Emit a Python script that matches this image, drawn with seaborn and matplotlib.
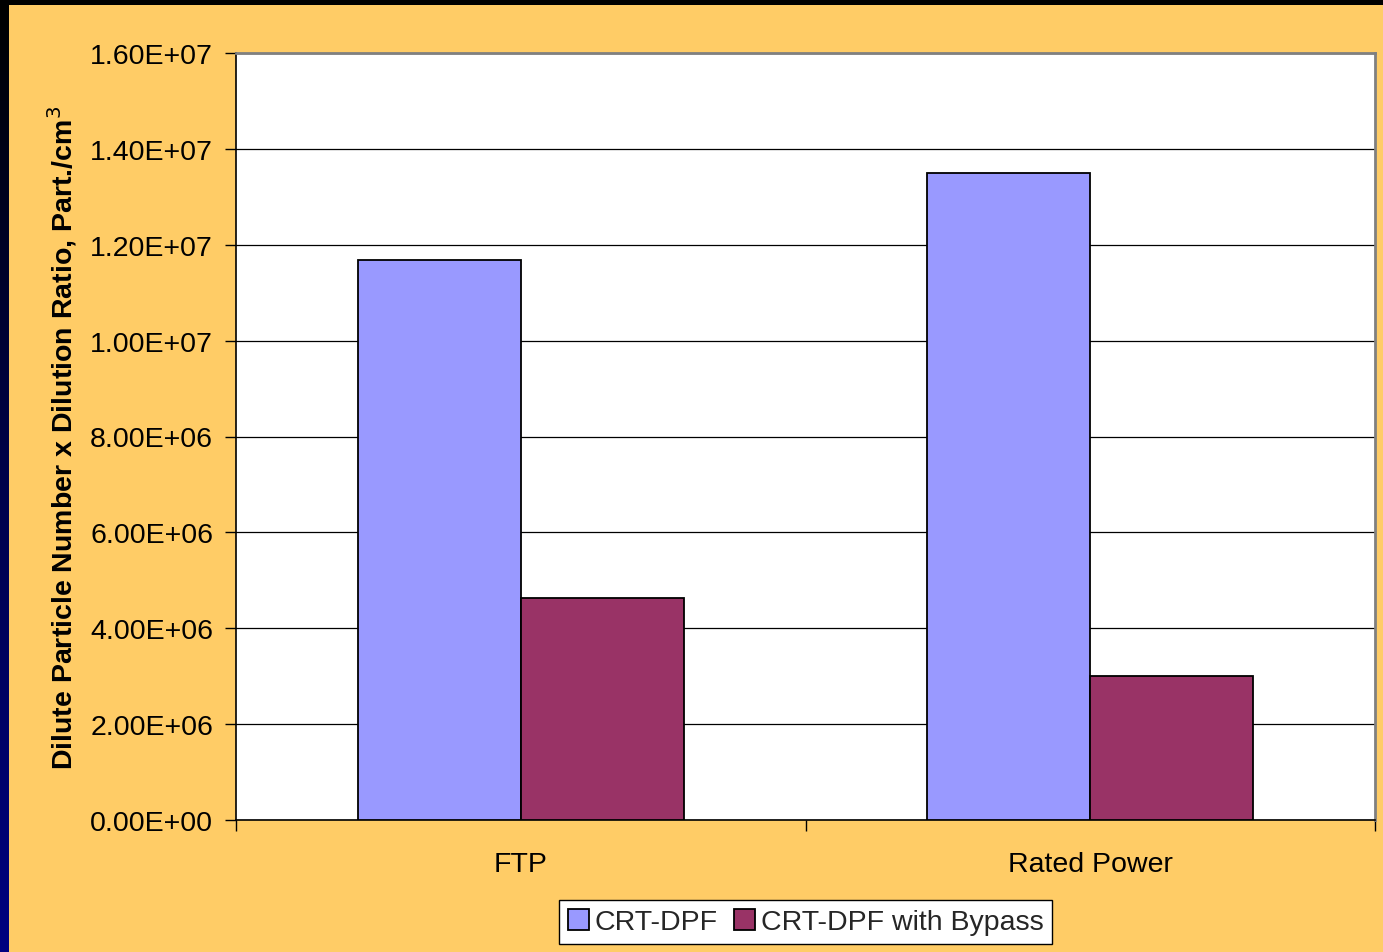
import numpy as np
import pandas as pd
import matplotlib
matplotlib.use("Agg")
import matplotlib.pyplot as plt
import seaborn as sns
from matplotlib.ticker import FixedLocator
from matplotlib.colors import LinearSegmentedColormap

categories = ["FTP", "Rated Power"]
series_names = ["CRT-DPF", "CRT-DPF with Bypass"]
crt_dpf = [1.168e7, 1.350e7]
crt_dpf_bypass = [4.63e6, 3.00e6]
y_ticks = [0, 2e6, 4e6, 6e6, 8e6, 1e7, 1.2e7, 1.4e7, 1.6e7]
y_tick_labels = ["0.00E+00", "2.00E+06", "4.00E+06", "6.00E+06", "8.00E+06",
                 "1.00E+07", "1.20E+07", "1.40E+07", "1.60E+07"]
palette = ["#9999FF", "#993366"]

df = pd.DataFrame({
    "category": categories * 2,
    "series": [series_names[0]] * 2 + [series_names[1]] * 2,
    "value": crt_dpf + crt_dpf_bypass,
})

sns.set_theme(style="white")
plt.rcParams["font.family"] = ["Liberation Sans", "DejaVu Sans"]

BG = "#FFCC66"
FS = 20.5
fig = plt.figure(figsize=(13.83, 9.53), dpi=100, facecolor=BG)

# decorative frame strips (slide background)
top = fig.add_axes([0, 1 - 6 / 953, 1, 6 / 953])
top.axis("off")
top.add_patch(plt.Rectangle((0, 0), 1, 1, color="black", transform=top.transAxes))
left = fig.add_axes([0, 0, 9 / 1383, 1 - 6 / 953])
grad = np.linspace(0, 1, 256).reshape(-1, 1)
cm = LinearSegmentedColormap.from_list("g", ["#000080", "#00004a", "#000000"])
left.imshow(grad, aspect="auto", cmap=cm, origin="lower", extent=[0, 1, 0, 1])
left.axis("off")

ax = fig.add_axes([236 / 1383, 1 - 821 / 953, (1375 - 236) / 1383, (821 - 54) / 953])
ax.set_facecolor("white")
sns.barplot(data=df, x="category", y="value", hue="series", palette=palette,
            width=0.572, gap=0, edgecolor="black", linewidth=1.3, saturation=1,
            ax=ax, zorder=3)

ax.set_ylim(0, 1.6e7)
ax.set_xlim(-0.5, 1.5)
ax.set_yticks(y_ticks)
ax.set_yticklabels(y_tick_labels, fontsize=FS, color="black")
ax.yaxis.grid(True, color="black", linewidth=0.9, zorder=0)
ax.set_axisbelow(True)
ax.tick_params(axis="y", which="major", left=True, length=8, width=1, color="black", pad=8.5)
ax.tick_params(axis="x", which="major", bottom=False, labelsize=FS, pad=16, labelcolor="black")
ax.xaxis.set_minor_locator(FixedLocator([-0.5, 0.5, 1.5]))
ax.tick_params(axis="x", which="minor", bottom=True, length=8, width=1, color="black")

ax.set_xlabel("")
ax.set_ylabel("Dilute Particle Number x Dilution Ratio, Part./cm$^3$",
              fontsize=20.5, fontweight="bold", labelpad=8, color="black")

for s in ["left", "bottom"]:
    ax.spines[s].set_color("black")
    ax.spines[s].set_linewidth(1.2)
for s in ["top", "right"]:
    ax.spines[s].set_color("#808080")
    ax.spines[s].set_linewidth(2)

ax.legend(title=None, loc="center", bbox_to_anchor=(0.5, -0.133), ncol=2,
          fontsize=FS, frameon=True, fancybox=False, edgecolor="black",
          framealpha=1, handlelength=0.75, handleheight=0.75, handletextpad=0.2,
          columnspacing=0.55, borderpad=0.3, borderaxespad=0)

fig.savefig("out.png", dpi=100, facecolor=BG)
